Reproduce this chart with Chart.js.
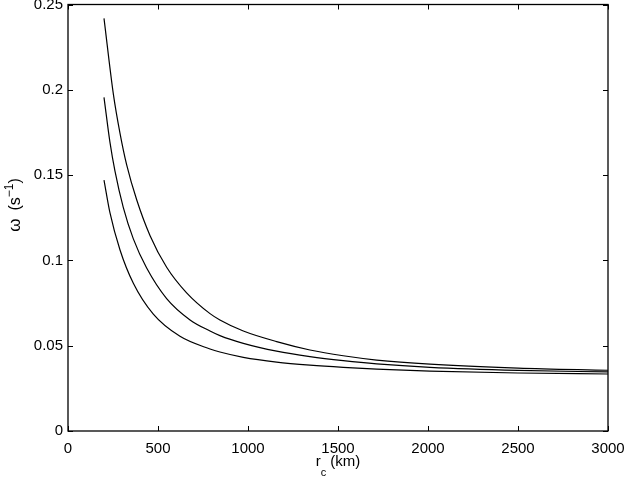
<!DOCTYPE html>
<html><head><meta charset="utf-8">
<script src="https://cdn.jsdelivr.net/npm/chart.js@4/dist/chart.umd.min.js"></script>
<style>html,body{margin:0;padding:0;background:#fff}#wrap{width:627px;height:480px}</style>
</head><body><div id="wrap"><canvas id="c" width="627" height="480"></canvas></div>
<script>
// ---- data ----
const rUpper = [200, 252, 289, 326, 382, 456, 548, 659, 789, 844, 974, 1159, 1344, 1529, 1715, 2011, 2500, 3000];
const omegaUpper = [0.2419, 0.1975, 0.1745, 0.1560, 0.1354, 0.1145, 0.0960, 0.0810, 0.0688, 0.0651, 0.0586, 0.0524, 0.0475, 0.0441, 0.0416, 0.0392, 0.0369, 0.0356];

const rMiddle = [200, 233, 261, 307, 363, 437, 548, 678, 789, 844, 974, 1159, 1344, 1529, 1715, 2011, 2500, 3000];
const omegaMiddle = [0.1956, 0.1693, 0.1523, 0.1311, 0.1126, 0.0955, 0.0776, 0.0651, 0.0586, 0.0559, 0.0514, 0.0468, 0.0436, 0.0412, 0.0393, 0.0373, 0.0355, 0.0346];

const rLower = [200, 233, 289, 363, 474, 622, 789, 844, 974, 1159, 1344, 1529, 1715, 2011, 2500, 3000];
const omegaLower = [0.1471, 0.1280, 0.1061, 0.0866, 0.0685, 0.0555, 0.0481, 0.0463, 0.0432, 0.0404, 0.0386, 0.0373, 0.0363, 0.0351, 0.0340, 0.0334];

const xTicks = [0, 500, 1000, 1500, 2000, 2500, 3000];
const yTicks = [0, 0.05, 0.1, 0.15, 0.2, 0.25];
const yTickLabels = ['0', '0.05', '0.1', '0.15', '0.2', '0.25'];
const xTitleParts = ['r', 'c', ' (km)'];
const yTitleParts = ['ω', '(s', '−1', ')'];

const FONT = '"Liberation Sans", Arial, Helvetica, sans-serif';

function toPoints(xs, ys) { return xs.map((v, i) => ({ x: v, y: ys[i] })); }

const frame = {
  id: 'frame',
  afterDraw(chart) {
    const { ctx, chartArea: a, scales: { x, y } } = chart;
    ctx.save();
    ctx.strokeStyle = '#000';
    ctx.lineWidth = 1.3;
    ctx.strokeRect(a.left, a.top, a.right - a.left, a.bottom - a.top);
    ctx.lineWidth = 1;
    const L = 5;
    ctx.beginPath();
    xTicks.forEach(v => {
      const p = Math.round(x.getPixelForValue(v)) + 0.5;
      ctx.moveTo(p, a.bottom); ctx.lineTo(p, a.bottom - L);
      ctx.moveTo(p, a.top); ctx.lineTo(p, a.top + L);
    });
    yTicks.forEach(v => {
      const p = Math.round(y.getPixelForValue(v)) + 0.5;
      ctx.moveTo(a.left, p); ctx.lineTo(a.left + L, p);
      ctx.moveTo(a.right, p); ctx.lineTo(a.right - L, p);
    });
    ctx.stroke();

    // x title with subscript
    ctx.fillStyle = '#000';
    ctx.textBaseline = 'alphabetic';
    ctx.textAlign = 'left';
    const big = '15px ' + FONT, small = '11px ' + FONT;
    ctx.font = big; const w0 = ctx.measureText(xTitleParts[0]).width;
    ctx.font = small; const w1 = ctx.measureText(xTitleParts[1]).width;
    ctx.font = big; const w2 = ctx.measureText(xTitleParts[2]).width;
    const cx = (a.left + a.right) / 2;
    let sx = cx - (w0 + w1 + w2) / 2;
    const by = 466;
    ctx.font = big; ctx.fillText(xTitleParts[0], sx, by); sx += w0;
    ctx.font = small; ctx.fillText(xTitleParts[1], sx, by + 10); sx += w1;
    ctx.font = big; ctx.fillText(xTitleParts[2], sx, by);

    // y title with superscript, rotated
    const yBig = '16px ' + FONT, ySmall = '12px ' + FONT, omegaFont = '17px ' + FONT;
    ctx.save();
    ctx.translate(20, 205);
    ctx.rotate(-Math.PI / 2);
    ctx.font = omegaFont; const u0 = ctx.measureText(yTitleParts[0]).width;
    const gap = 8;
    ctx.font = yBig; const u1 = ctx.measureText(yTitleParts[1]).width;
    ctx.font = ySmall; const u2 = ctx.measureText(yTitleParts[2]).width;
    ctx.font = yBig; const u3 = ctx.measureText(yTitleParts[3]).width;
    let tx = -(u0 + gap + u1 + u2 + u3) / 2;
    ctx.font = omegaFont; ctx.fillText(yTitleParts[0], tx, 0); tx += u0 + gap;
    ctx.font = yBig; ctx.fillText(yTitleParts[1], tx, 0); tx += u1;
    ctx.font = ySmall; ctx.fillText(yTitleParts[2], tx, -7); tx += u2;
    ctx.font = yBig; ctx.fillText(yTitleParts[3], tx, 0);
    ctx.restore();
    ctx.restore();
  }
};

const lineStyle = {
  borderColor: '#000',
  borderWidth: 1.2,
  pointRadius: 0,
  showLine: true,
  fill: false,
  cubicInterpolationMode: 'monotone'
};

new Chart(document.getElementById('c'), {
  type: 'scatter',
  data: {
    datasets: [
      Object.assign({ label: 'upper', data: toPoints(rUpper, omegaUpper) }, lineStyle),
      Object.assign({ label: 'middle', data: toPoints(rMiddle, omegaMiddle) }, lineStyle),
      Object.assign({ label: 'lower', data: toPoints(rLower, omegaLower) }, lineStyle)
    ]
  },
  options: {
    responsive: false,
    animation: false,
    layout: { padding: { left: 0, right: 19, top: 4.5, bottom: 0 } },
    plugins: { legend: { display: false }, tooltip: { enabled: false } },
    scales: {
      x: {
        type: 'linear', min: 0, max: 3000,
        afterBuildTicks(s) { s.ticks = xTicks.map(v => ({ value: v })); },
        afterFit(s) { s.height = 49; s.paddingLeft = 0; s.paddingRight = 0; },
        grid: { display: false, drawTicks: false },
        border: { display: false },
        ticks: { color: '#000', font: { family: FONT, size: 15 }, padding: 9, maxRotation: 0, autoSkip: false,
          callback: v => String(v) }
      },
      y: {
        type: 'linear', min: 0, max: 0.25,
        afterBuildTicks(s) { s.ticks = yTicks.map(v => ({ value: v })); },
        afterFit(s) { s.width = 68; s.paddingTop = 0; s.paddingBottom = 0; },
        grid: { display: false, drawTicks: false },
        border: { display: false },
        ticks: { color: '#000', font: { family: FONT, size: 15 }, padding: 5, autoSkip: false,
          callback: (v) => { const i = yTicks.findIndex(t => Math.abs(t - v) < 1e-9); return i >= 0 ? yTickLabels[i] : ''; } }
      }
    }
  },
  plugins: [frame]
});
</script>
</body></html>
